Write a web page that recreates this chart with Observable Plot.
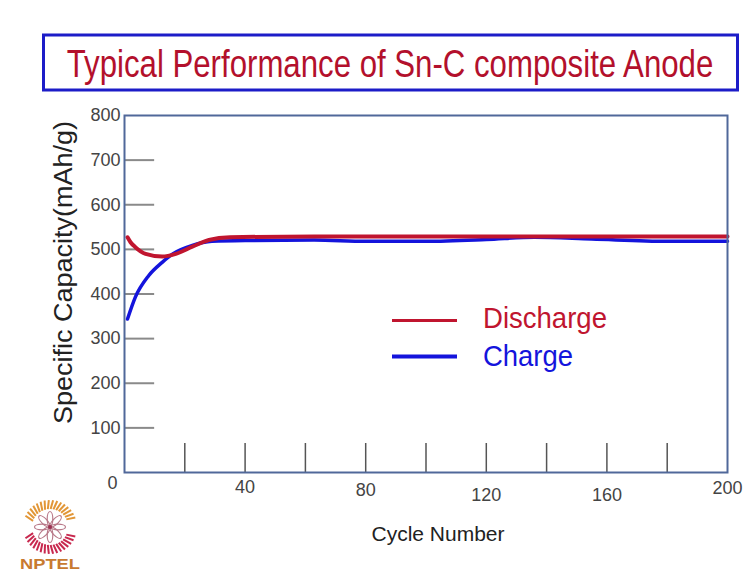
<!DOCTYPE html>
<html>
<head>
<meta charset="utf-8">
<script src="https://cdn.jsdelivr.net/npm/d3@7"></script>
<script src="https://cdn.jsdelivr.net/npm/@observablehq/plot@0.6"></script>
<style>
  html, body { margin: 0; padding: 0; background: #ffffff; }
  #chart { width: 750px; height: 575px; position: relative; }
</style>
</head>
<body>
<div id="chart"></div>
<script>
// ---------------- data ----------------
const titleText = "Typical Performance of Sn-C composite Anode";
const xAxisTitle = "Cycle Number";
const yAxisTitle = "Specific Capacity(mAh/g)";

const dischargeCycles = [1, 2, 3.6, 7, 12.5, 17, 22.5, 28, 35, 63, 100, 150, 200];
const dischargeValues = [527, 516, 505, 490, 484, 490, 506, 521, 527, 529, 529, 529, 529];

const chargeCycles = [1, 3.6, 8, 12.5, 16, 22.5, 29, 40, 63, 80, 100, 120, 136, 155, 180, 200];
const chargeValues = [344, 393, 441, 471, 490, 509, 518, 520, 521, 518, 518, 522, 527, 523, 518, 518];

const seriesNames = ["Discharge", "Charge"];
const seriesColors = ["#c0152f", "#1414dc"];

const yTickValues = [100, 200, 300, 400, 500, 600, 700];
const yTickLabels = [100, 200, 300, 400, 500, 600, 700, 800];
const xTickValues = [20, 40, 60, 80, 100, 120, 140, 160, 180];
const xTickLabels = [40, 80, 120, 160, 200];

// ---------------- style (not data) ----------------
const xLabelDy = [15, 18, 23, 23, 16];
const FONT = "'Liberation Sans', Arial, sans-serif";

const discharge = dischargeCycles.map((c, i) => ({cycle: c, value: dischargeValues[i]}));
const charge = chargeCycles.map((c, i) => ({cycle: c, value: chargeValues[i]}));

const xLabelMarks = xTickLabels.map((v, i) =>
  Plot.text([v], {x: d => d, y: 0, text: d => String(d), dy: xLabelDy[i],
    fontSize: 18, fill: "#444", textAnchor: "middle"}));

const plot = Plot.plot({
  width: 750,
  height: 575,
  marginLeft: 124,
  marginRight: 23,
  marginTop: 115,
  marginBottom: 103,
  style: {fontFamily: FONT, background: "#ffffff", overflow: "visible"},
  x: {domain: [0, 200], axis: null},
  y: {domain: [0, 800], axis: null},
  marks: [
    Plot.ruleY(yTickValues, {y: d => d, x1: 0, x2: 10, stroke: "#8a8a8a", strokeWidth: 2}),
    Plot.ruleX(xTickValues, {x: d => d, y1: 0, y2: 65, stroke: "#555", strokeWidth: 1.5}),
    Plot.line(charge, {x: "cycle", y: "value", stroke: seriesColors[1], strokeWidth: 3.5, curve: "monotone-x"}),
    Plot.line(discharge, {x: "cycle", y: "value", stroke: seriesColors[0], strokeWidth: 4, curve: "monotone-x"}),
    Plot.frame({stroke: "#50689a", strokeWidth: 2}),
    Plot.text(yTickLabels, {x: 0, y: d => d, text: d => String(d), dx: -4, textAnchor: "end",
      fontSize: 18, fill: "#444"}),
    Plot.text([0], {x: 0, y: 0, text: d => String(d), dx: -12, dy: 11, fontSize: 18, fill: "#444"}),
    ...xLabelMarks,
    Plot.text([xAxisTitle], {frameAnchor: "bottom", text: d => d, dx: 12, dy: 68, fontSize: 21, fill: "#222"}),
    Plot.text([yAxisTitle], {frameAnchor: "left", text: d => d, rotate: -90, textAnchor: "start",
      dx: -61, dy: 130, fontSize: 25, fill: "#222"})
  ]
});

document.getElementById("chart").appendChild(plot);

const svg = d3.select(plot);
svg.selectAll("text").filter(function() { return this.textContent === yAxisTitle; })
  .attr("textLength", 303).attr("lengthAdjust", "spacingAndGlyphs");

// ---------------- title box ----------------
svg.append("rect")
  .attr("x", 43.5).attr("y", 35).attr("width", 694).attr("height", 55)
  .attr("fill", "#ffffff").attr("stroke", "#1c1cc8").attr("stroke-width", 3);
const titleG = svg.append("g").attr("transform", "translate(390,77) scale(0.80,1)");
titleG.append("text")
  .attr("x", 0).attr("y", 0).attr("text-anchor", "middle")
  .attr("font-family", FONT).attr("font-size", 39).attr("fill", "#b3102c")
  .text(titleText);

// ---------------- legend ----------------
const legendRows = [
  {y: 320.5, base: 328, len: 124, width: 3},
  {y: 356.5, base: 366, len: 90, width: 4}
];
seriesNames.forEach((name, i) => {
  const r = legendRows[i];
  svg.append("line").attr("x1", 392).attr("x2", 457).attr("y1", r.y).attr("y2", r.y)
    .attr("stroke", seriesColors[i]).attr("stroke-width", r.width);
  svg.append("text").attr("x", 483).attr("y", r.base).attr("text-anchor", "start")
    .attr("font-family", FONT).attr("font-size", 29).attr("fill", seriesColors[i])
    .attr("textLength", r.len).attr("lengthAdjust", "spacingAndGlyphs")
    .text(name);
});

// ---------------- NPTEL logo ----------------
const logo = svg.append("g").attr("transform", "translate(50,527)");
for (let a = 200; a <= 340; a += 9) {
  const t = a * Math.PI / 180;
  logo.append("line")
    .attr("x1", 18 * Math.cos(t)).attr("y1", 18 * Math.sin(t))
    .attr("x2", 27 * Math.cos(t + 0.08)).attr("y2", 27 * Math.sin(t + 0.08))
    .attr("stroke", "#e29636").attr("stroke-width", 2);
}
for (let a = 20; a <= 160; a += 9) {
  const t = -a * Math.PI / 180 + Math.PI;
  logo.append("line")
    .attr("x1", 18 * Math.cos(t)).attr("y1", 18 * Math.sin(t))
    .attr("x2", 27 * Math.cos(t - 0.08)).attr("y2", 27 * Math.sin(t - 0.08))
    .attr("stroke", "#c8284e").attr("stroke-width", 2);
}
for (let k = 0; k < 8; k++) {
  logo.append("ellipse")
    .attr("cx", 0).attr("cy", -8).attr("rx", 2.8).attr("ry", 7.5)
    .attr("transform", `rotate(${k * 45})`)
    .attr("fill", "none").attr("stroke", "#b87888").attr("stroke-width", 1.2);
}
logo.append("circle").attr("r", 2).attr("fill", "#9a3050");
svg.append("text").attr("x", 50).attr("y", 569).attr("text-anchor", "middle")
  .attr("font-family", FONT).attr("font-weight", "bold").attr("font-size", 15)
  .attr("fill", "#c87a30").attr("textLength", 60).attr("lengthAdjust", "spacingAndGlyphs")
  .text("NPTEL");
</script>
</body>
</html>
